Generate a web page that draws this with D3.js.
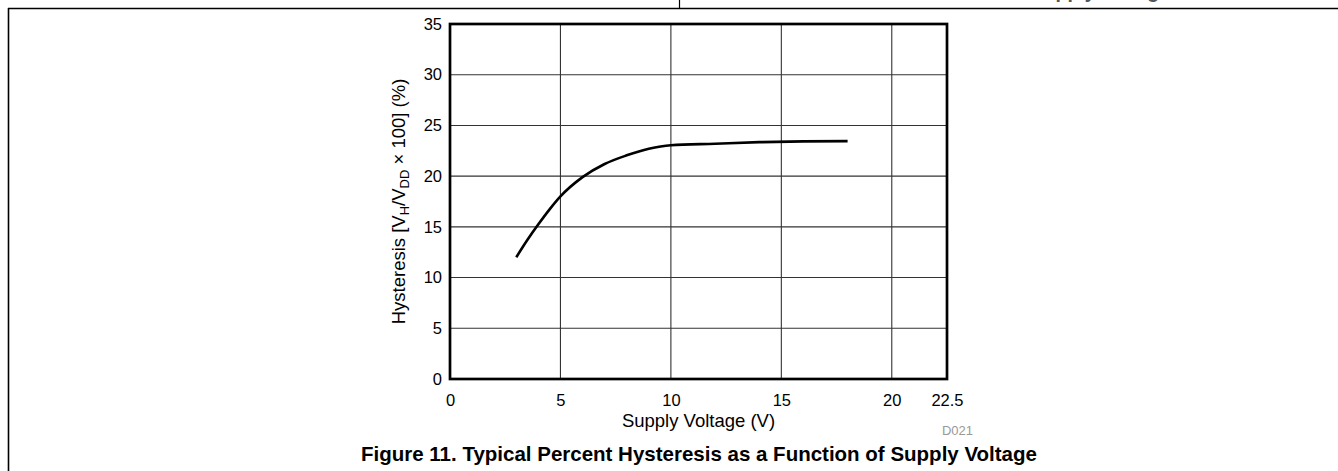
<!DOCTYPE html>
<html>
<head>
<meta charset="utf-8">
<script src="https://cdn.jsdelivr.net/npm/d3@7"></script>
<style>
  html, body { margin: 0; padding: 0; background: #fff; }
  svg { display: block; font-family: "Liberation Sans", Arial, sans-serif; }
</style>
</head>
<body>
<svg id="chart" width="1338" height="471"></svg>
<script>
// ---- data ----
const supplyVoltage = [3, 3.5, 4, 4.5, 5, 6, 7, 8, 9, 10, 12, 14, 16, 18];
const hysteresisPct = [12.0, 13.7, 15.25, 16.7, 18.0, 19.9, 21.2, 22.05, 22.7, 23.05, 23.2, 23.35, 23.43, 23.45];
const xTicks = [0, 5, 10, 15, 20, 22.5];
const yTicks = [0, 5, 10, 15, 20, 25, 30, 35];
const xDomain = [0, 22.5];
const yDomain = [0, 35];

const svg = d3.select("#chart");

// page frame (datasheet cell borders)
svg.append("line").attr("x1", 8).attr("x2", 1338).attr("y1", 8.5).attr("y2", 8.5)
  .attr("stroke", "#000").attr("stroke-width", 1.6);
svg.append("line").attr("x1", 8.5).attr("x2", 8.5).attr("y1", 8).attr("y2", 471)
  .attr("stroke", "#000").attr("stroke-width", 1.6);
svg.append("line").attr("x1", 679.5).attr("x2", 679.5).attr("y1", 0).attr("y2", 8)
  .attr("stroke", "#000").attr("stroke-width", 1.2);
// clipped tail of the previous caption (only descenders visible)
svg.append("text").attr("x", 1170).attr("y", -2).attr("text-anchor", "end")
  .attr("font-weight", "bold").attr("font-size", "19.5px").attr("fill", "#555")
  .text("Supply Voltage");

const L = 450, R = 947, T = 24, B = 379;
const x = d3.scaleLinear().domain(xDomain).range([L, R]);
const y = d3.scaleLinear().domain(yDomain).range([B, T]);

// grid
const g = svg.append("g");
g.selectAll("line.vg").data(xTicks.filter(d => d > 0 && d < 22.5)).join("line")
  .attr("x1", d => x(d)).attr("x2", d => x(d)).attr("y1", T).attr("y2", B)
  .attr("stroke", "#333").attr("stroke-width", 1.1);
g.selectAll("line.hg").data(yTicks.filter(d => d > 0 && d < 35)).join("line")
  .attr("x1", L).attr("x2", R).attr("y1", d => y(d)).attr("y2", d => y(d))
  .attr("stroke", "#333").attr("stroke-width", 1.1);

// axes (labels only, frame drawn separately)
const xAxis = d3.axisBottom(x).tickValues(xTicks).tickSize(0).tickPadding(0)
  .tickFormat(d => d === 22.5 ? "22.5" : d3.format("d")(d));
const xa = svg.append("g").attr("transform", `translate(0,${B})`).call(xAxis);
xa.select(".domain").remove();
xa.selectAll("text").attr("font-size", "16.5px").attr("fill", "#000")
  .attr("font-family", "Liberation Sans, Arial, sans-serif")
  .attr("dy", null).attr("y", 27);

const yAxis = d3.axisLeft(y).tickValues(yTicks).tickSize(0).tickPadding(8);
const ya = svg.append("g").attr("transform", `translate(${L},0)`).call(yAxis);
ya.select(".domain").remove();
ya.selectAll("text").attr("font-size", "16.5px").attr("fill", "#000")
  .attr("font-family", "Liberation Sans, Arial, sans-serif");

// curve
const line = d3.line().x((d, i) => x(supplyVoltage[i])).y(d => y(d)).curve(d3.curveMonotoneX);
svg.append("path").datum(hysteresisPct).attr("d", line)
  .attr("fill", "none").attr("stroke", "#000").attr("stroke-width", 2.6)
  .attr("stroke-linecap", "butt");

// plot frame
svg.append("rect").attr("x", L).attr("y", T).attr("width", R - L).attr("height", B - T)
  .attr("fill", "none").attr("stroke", "#000").attr("stroke-width", 2.7);

// axis titles
svg.append("text").attr("x", (L + R) / 2).attr("y", 426.5).attr("text-anchor", "middle")
  .attr("font-size", "18.5px").attr("fill", "#000").text("Supply Voltage (V)");

const yl = svg.append("text").attr("transform", `translate(405,${(T + B) / 2}) rotate(-90)`)
  .attr("text-anchor", "middle").attr("font-size", "18.5px").attr("fill", "#000");
yl.append("tspan").text("Hysteresis [V");
yl.append("tspan").attr("font-size", "13px").attr("dy", 4).text("H");
yl.append("tspan").attr("dy", -4).text("/V");
yl.append("tspan").attr("font-size", "13px").attr("dy", 4).text("DD");
yl.append("tspan").attr("dy", -4).text(" \u00D7 100] (%)");

svg.append("text").attr("x", 973).attr("y", 435).attr("text-anchor", "end")
  .attr("font-size", "13px").attr("fill", "#999").text("D021");

svg.append("text").attr("x", 361).attr("y", 461).attr("text-anchor", "start")
  .attr("font-weight", "bold").attr("font-size", "20.5px").attr("fill", "#000")
  .text("Figure 11. Typical Percent Hysteresis as a Function of Supply Voltage");
</script>
</body>
</html>
